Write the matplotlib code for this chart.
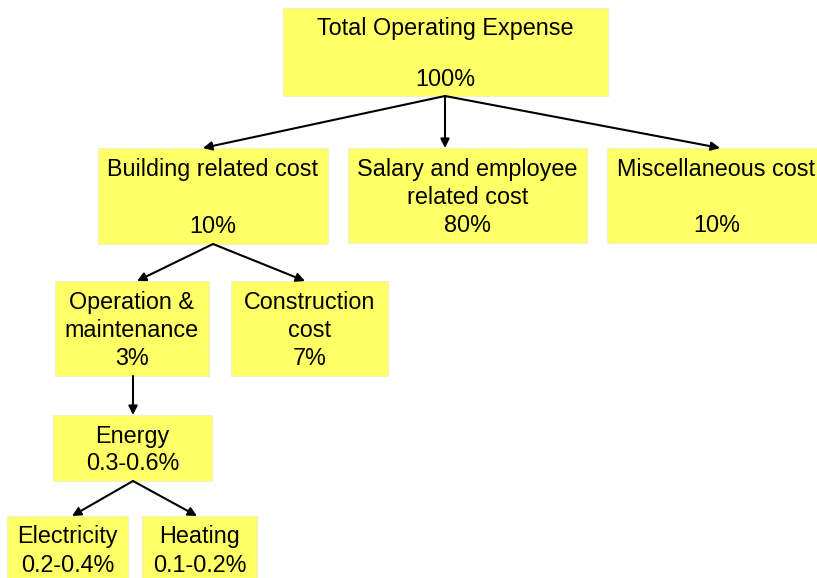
import matplotlib
matplotlib.use("Agg")
import matplotlib.pyplot as plt
from matplotlib.patches import Rectangle

# node names, label lines and tree edges
nodes = ["total", "building", "salary", "misc", "operation", "construction",
         "energy", "electricity", "heating"]
labels = {
    "total": ["Total Operating Expense", "", "100%"],
    "building": ["Building related cost", "", "10%"],
    "salary": ["Salary and employee", "related cost", "80%"],
    "misc": ["Miscellaneous cost", "", "10%"],
    "operation": ["Operation &", "maintenance", "3%"],
    "construction": ["Construction", "cost", "7%"],
    "energy": ["Energy", "0.3-0.6%"],
    "electricity": ["Electricity", "0.2-0.4%"],
    "heating": ["Heating", "0.1-0.2%"],
}
edges = [("total", "building"), ("total", "salary"), ("total", "misc"),
         ("building", "operation"), ("building", "construction"),
         ("operation", "energy"),
         ("energy", "electricity"), ("energy", "heating")]

# layout in pixels: x0, y0, x1, y1, line pitch
layout = {
    "total": (283, 8, 608, 96, 25),
    "building": (98, 148, 328, 244, 28.5),
    "salary": (348, 148, 587, 243, 28),
    "misc": (607, 148, 826, 243, 28.5),
    "operation": (55, 281, 209, 376, 28),
    "construction": (231, 281, 388, 376, 28),
    "energy": (53, 415, 212, 481, 28),
    "electricity": (7, 516, 128, 582, 28),
    "heating": (142, 516, 257, 582, 28),
}
# where arrows leave a parent and reach a child (x in pixels)
arrow_out = {"total": 445, "building": 213, "operation": 133, "energy": 133}
arrow_in = {"building": 203, "salary": 445, "misc": 720, "operation": 137,
            "construction": 305, "energy": 133, "electricity": 72,
            "heating": 197}

W, H = 817, 578
fig = plt.figure(figsize=(W / 100, H / 100), dpi=100)
ax = fig.add_axes([0, 0, 1, 1])
ax.set_xlim(0, W)
ax.set_ylim(H, 0)
ax.axis("off")

for n in nodes:
    x0, y0, x1, y1, pitch = layout[n]
    ax.add_patch(Rectangle((x0, y0), x1 - x0, y1 - y0, facecolor="#ffff66",
                           edgecolor="#f0f0c0", lw=0.8))
    cx, cy = (x0 + x1) / 2, (y0 + y1) / 2 + 2
    lines = labels[n]
    for i, line in enumerate(lines):
        y = cy + (i - (len(lines) - 1) / 2) * pitch
        ax.text(cx, y, line, ha="center", va="center", fontsize=16.8,
                family="Liberation Sans", color="black")

for a, b in edges:
    ay1 = layout[a][3]
    by0 = layout[b][1]
    ax.annotate("", xy=(arrow_in[b], by0), xytext=(arrow_out[a], ay1),
                arrowprops=dict(arrowstyle="-|>", color="black", lw=1.5,
                                mutation_scale=13, shrinkA=0, shrinkB=0))

fig.savefig("out.png", dpi=100)
